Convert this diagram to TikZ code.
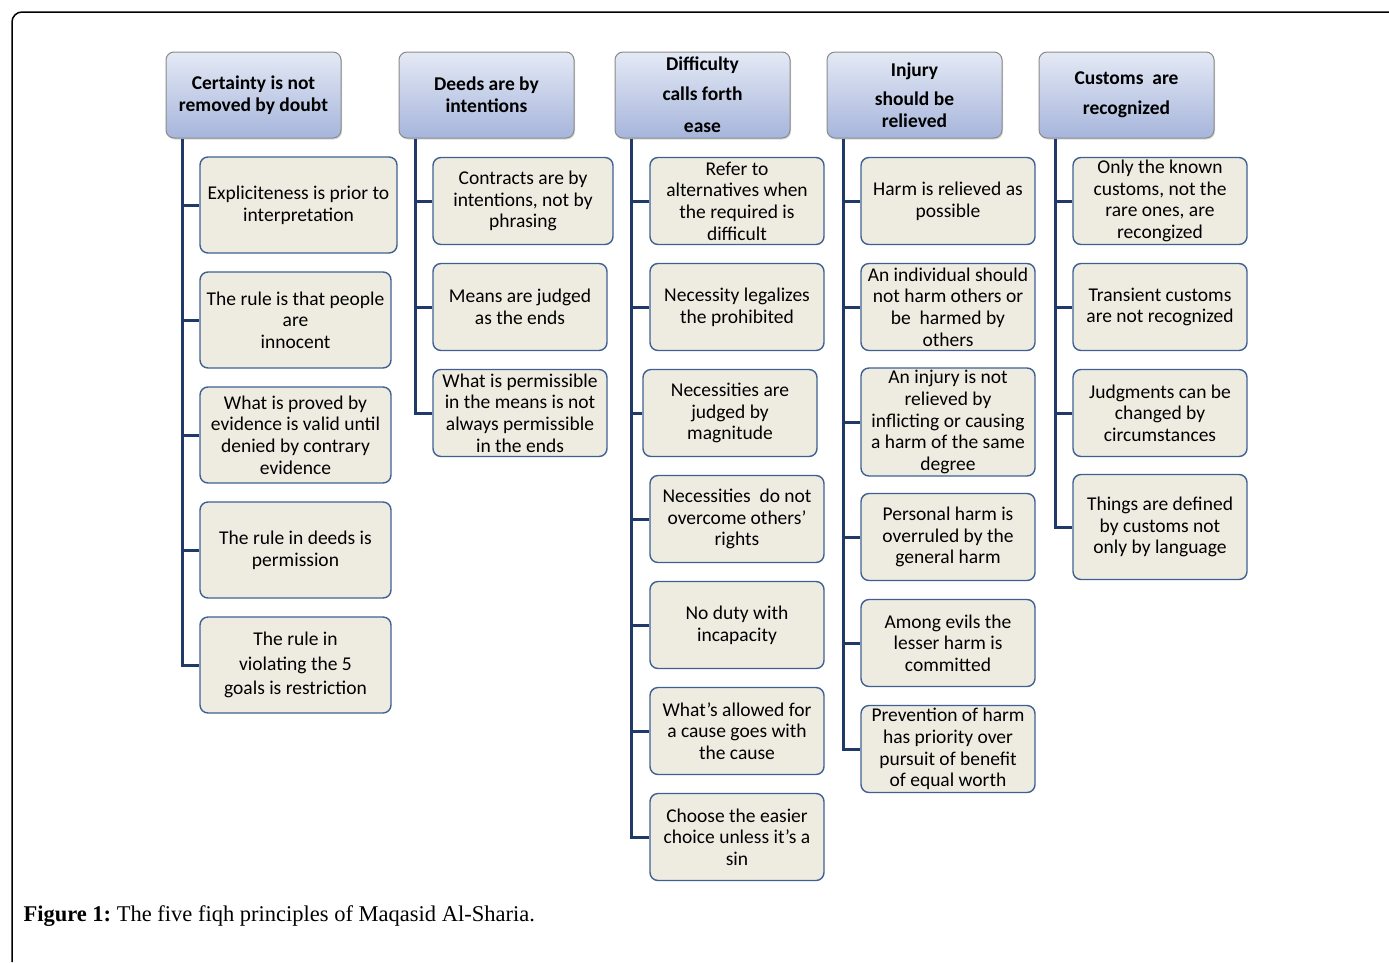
\documentclass[tikz,border=0pt]{standalone}
\usepackage{fontspec}
\setmainfont{Carlito}
\newfontfamily\captionfont{Liberation Serif}
\usetikzlibrary{positioning,shadows}

\definecolor{headtop}{HTML}{E4E9F5}
\definecolor{headbot}{HTML}{A6B5DB}
\definecolor{headline}{HTML}{8A8A8A}
\definecolor{itemfill}{HTML}{EEECE1}
\definecolor{itemline}{HTML}{3E6192}
\definecolor{trunkblue}{HTML}{1F3A68}

\begin{document}
\begin{tikzpicture}[x=1pt, y=1pt, node distance=106pt, font=\fontsize{19.5}{21.7}\selectfont]
\tikzstyle{head} = [rectangle, rounded corners=8pt, draw=headline, line width=1pt, top color=headtop, bottom color=headbot, minimum width=175pt, minimum height=86pt, align=center, font=\fontsize{19.5}{21.7}\selectfont\bfseries, drop shadow={opacity=0.3, shadow xshift=1pt, shadow yshift=-1.5pt}]
\tikzstyle{item} = [rectangle, rounded corners=8pt, draw=itemline, line width=1.4pt, fill=itemfill, minimum width=174pt, minimum height=87pt, align=center, inner sep=1pt]
\tikzstyle{trunk} = [trunkblue, line width=3pt]

\useasboundingbox (0,0) rectangle (1389,-962);
\draw [line width=1.5pt, rounded corners=10pt] (12,-962) -- (12,-12) -- (1389,-12);

\node (h1) [head] at (253.5,-95) {Certainty is not\\removed by doubt};
\node (h2) [head] at (486.5,-95) {Deeds are by\\intentions};
\node (h3) [head] at (702.5,-95) {Difficulty\\[8pt]calls forth\\[11pt]ease};
\node (h4) [head] at (914.5,-95) {Injury\\[8pt]should be\\relieved};
\node (h5) [head] at (1126.5,-95) {Customs\ \ are\\[8pt]recognized};

\begin{scope}[node distance=115pt]
\node (c1a) [item, minimum width=197pt, minimum height=96pt, below of=h1, xshift=45pt, yshift=5pt] {Expliciteness is prior to\\interpretation};
\node (c1b) [item, minimum width=191pt, minimum height=96pt, below of=c1a, xshift=-3pt] {The rule is that people\\are\\innocent};
\node (c1c) [item, minimum width=191pt, minimum height=96pt, below of=c1b] {What is proved by\\evidence is valid until\\denied by contrary\\evidence};
\node (c1d) [item, minimum width=191pt, minimum height=96pt, below of=c1c] {The rule in deeds is\\permission};
\node (c1e) [item, minimum width=191pt, minimum height=96pt, below of=c1d] {The rule in\\[3pt]violating the 5\\[3pt]goals is restriction};
\end{scope}

\node (c2a) [item, minimum width=180pt, below of=h2, xshift=36.5pt] {Contracts are by\\intentions, not by\\phrasing};
\node (c2b) [item, below of=c2a, xshift=-3pt] {Means are judged\\as the ends};
\node (c2c) [item, below of=c2b] {What is permissible\\in the means is not\\always permissible\\in the ends};

\node (c3a) [item, below of=h3, xshift=34.5pt] {Refer to\\alternatives when\\the required is\\difficult};
\node (c3b) [item, below of=c3a] {Necessity legalizes\\the prohibited};
\node (c3c) [item, below of=c3b, xshift=-7pt] {Necessities are\\judged by\\magnitude};
\node (c3d) [item, below of=c3c, xshift=7pt] {Necessities\ \ do not\\overcome others'\\rights};
\node (c3e) [item, below of=c3d] {No duty with\\incapacity};
\node (c3f) [item, below of=c3e] {What's allowed for\\a cause goes with\\the cause};
\node (c3g) [item, below of=c3f] {Choose the easier\\choice unless it's a\\sin};

\node (c4a) [item, below of=h4, xshift=33.5pt] {Harm is relieved as\\possible};
\node (c4b) [item, below of=c4a] {An individual should\\not harm others or\\be\ \ harmed by\\others};
\node (c4c) [item, minimum height=108pt, below of=c4b, yshift=-9pt] {An injury is not\\relieved by\\inflicting or causing\\a harm of the same\\degree};
\node (c4d) [item, below of=c4c, yshift=-9pt] {Personal harm is\\overruled by the\\general harm};
\node (c4e) [item, below of=c4d] {Among evils the\\lesser harm is\\committed};
\node (c4f) [item, below of=c4e] {Prevention of harm\\has priority over\\pursuit of benefit\\of equal worth};

\node (c5a) [item, below of=h5, xshift=33.5pt] {Only the known\\customs, not the\\rare ones, are\\recongized};
\node (c5b) [item, below of=c5a] {Transient customs\\are not recognized};
\node (c5c) [item, below of=c5b] {Judgments can be\\changed by\\circumstances};
\node (c5d) [item, minimum height=105pt, below of=c5c, yshift=-8pt] {Things are defined\\by customs not\\only by language};

\coordinate (t1) at ([xshift=17pt]h1.south west);
\coordinate (t2) at ([xshift=17pt]h2.south west);
\coordinate (t3) at ([xshift=17pt]h3.south west);
\coordinate (t4) at ([xshift=17pt]h4.south west);
\coordinate (t5) at ([xshift=17pt]h5.south west);

\draw [trunk] (t1) |- (c1e.west);
\draw [trunk] (t2) |- (c2c.west);
\draw [trunk] (t3) |- (c3g.west);
\draw [trunk] (t4) |- (c4f.west);
\draw [trunk] (t5) |- (c5d.west);
\foreach \c in {c1a,c1b,c1c,c1d} \draw [trunk] (\c.west) -- (\c.west -| t1);
\foreach \c in {c2a,c2b} \draw [trunk] (\c.west) -- (\c.west -| t2);
\foreach \c in {c3a,c3b,c3c,c3d,c3e,c3f} \draw [trunk] (\c.west) -- (\c.west -| t3);
\foreach \c in {c4a,c4b,c4c,c4d,c4e} \draw [trunk] (\c.west) -- (\c.west -| t4);
\foreach \c in {c5a,c5b,c5c} \draw [trunk] (\c.west) -- (\c.west -| t5);

\node (cap) [anchor=west, font=\captionfont\fontsize{22.5}{26}\selectfont] at (20,-916) {\textbf{Figure 1:}~The five fiqh principles of Maqasid Al-Sharia.};
\end{tikzpicture}
\end{document}
